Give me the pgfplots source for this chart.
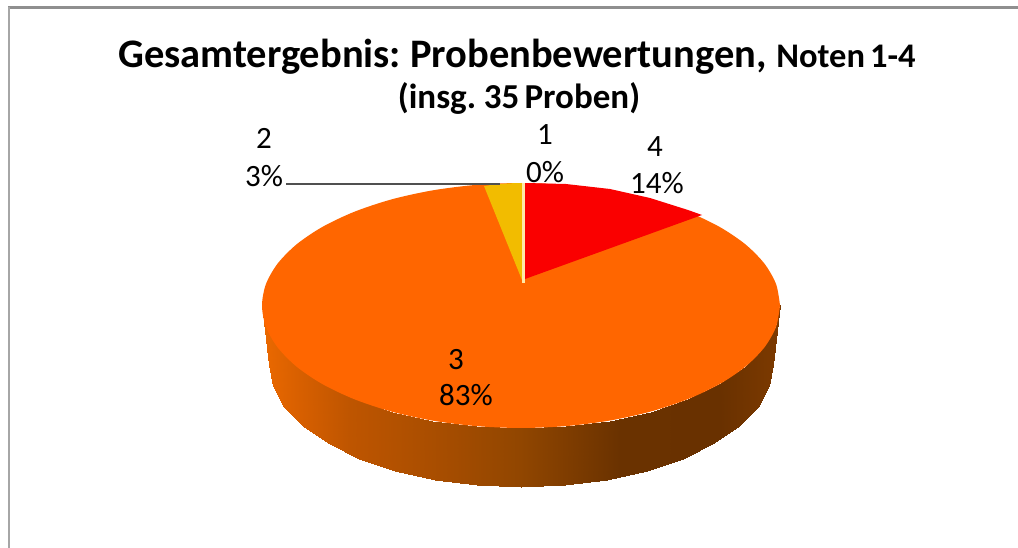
\documentclass[border=0pt]{standalone}
\usepackage{pgfplots}
\pgfplotsset{compat=1.18}
\usepackage{fontspec}
\setmainfont{Carlito}
\newfontfamily\titlefont[WordSpace=0.65]{Carlito}
\definecolor{frameT}{HTML}{8F8F8F}
\definecolor{frameL}{HTML}{A6A6A6}
\definecolor{sliceThree}{HTML}{FF6600}
\definecolor{sliceFour}{HTML}{FA0000}
\definecolor{sliceTwo}{HTML}{F2BC00}
\definecolor{sliceOne}{HTML}{FFE9A8}
\definecolor{leader}{HTML}{505050}
\pgfplotsset{colormap={sidewall}{
  rgb255(262)=(235,105,0)
  rgb255(300)=(215,95,0)
  rgb255(350)=(190,85,0)
  rgb255(430)=(170,78,0)
  rgb255(520)=(145,70,0)
  rgb255(620)=(106,50,0)
  rgb255(720)=(105,49,0)
  rgb255(780)=(125,58,0)
}}
\begin{document}
\begin{tikzpicture}
\begin{axis}[
  scale only axis, width=1018pt, height=548pt,
  xmin=0, xmax=1018, ymin=0, ymax=548, y dir=reverse,
  axis line style={draw=none}, xtick=\empty, ytick=\empty, colormap name=sidewall,
  point meta min=262, point meta max=780,
]
% frame
\addplot[frameT, line width=2.6pt] coordinates {(8,7.5) (1018,7.5)};
\addplot[frameL, line width=2pt] coordinates {(8.5,7.5) (8.5,548)};
% side wall
\addplot[surf, shader=interp, mesh/rows=2, point meta=x] table {
x y
262 305.5
265.9 326.8
277.6 347.4
296.7 366.75
322.6 384.2
354.5 399.3
391.5 411.6
432.4 420.6
476 426.1
521 428
566 426.1
609.6 420.6
650.5 411.6
687.5 399.3
719.4 384.2
745.3 366.75
764.4 347.4
776.1 326.8
780 305.5
269 365
272.8 386.2
284.2 406.7
302.8 426
328 443.4
359 458.5
395 470.7
434.8 479.6
477.3 485.1
521 487
564.7 485.1
607.2 479.6
647 470.7
683 458.5
714 443.4
739.2 426
757.8 406.7
769.2 386.2
773 365
};
% top face: share 3 (whole ellipse, the others lie over it)
\addplot[fill=sliceThree, draw=none, smooth] coordinates {
(780,305.5) (776.1,284.2) (764.4,263.6) (745.3,244.25) (719.4,226.8) (687.5,211.7) (650.5,199.4) (609.6,190.4) (566,184.9) (521,183)
(476,184.9) (432.4,190.4) (391.5,199.4) (354.5,211.7) (322.6,226.8) (296.7,244.25) (277.6,263.6) (265.9,284.2) (262,305.5)
(265.9,326.8) (277.6,347.4) (296.7,366.75) (322.6,384.2) (354.5,399.3) (391.5,411.6) (432.4,420.6) (476,426.1) (521,428)
(566,426.1) (609.6,420.6) (650.5,411.6) (687.5,399.3) (719.4,384.2) (745.3,366.75) (764.4,347.4) (776.1,326.8) (780,305.5)
} -- cycle;
% share 2
\addplot[fill=sliceTwo, draw=none] coordinates {(522,280) (484,186) (495,184.5) (510,183.3) (522,183)} -- cycle;
% share 1 (hairline)
\addplot[fill=sliceOne, draw=none] coordinates {(522,183) (525,183) (525,283) (522,283)} -- cycle;
% share 4
\addplot[fill=sliceFour, draw=none] coordinates {(525,183) (566,184) (610,189) (650,198) (688,210) (702,215) (525,279)} -- cycle;
% leader
\addplot[leader, line width=1.1pt] coordinates {(286,184) (500,184)};
% labels
\node[anchor=base, font=\fontsize{40.5}{40.5}\selectfont\titlefont\bfseries, inner sep=0pt] at (axis cs:442.5,68) {Gesamtergebnis: Probenbewertungen,};
\node[anchor=base, font=\fontsize{34.5}{34.5}\selectfont\titlefont\bfseries, inner sep=0pt] at (axis cs:846,68) {Noten 1-4};
\node[anchor=base, font=\fontsize{35}{35}\selectfont\titlefont\bfseries, inner sep=0pt] at (axis cs:519,109) {(insg. 35 Proben)};
\foreach \x/\y/\t in {264/138/2, 264/176/3\%, 545/135/1, 545/172/0\%, 655/147/4, 657/183/14\%, 456/360/3, 466/395/83\%}{
  \edef\tmp{\noexpand\node[font=\noexpand\fontsize{31}{31}\noexpand\selectfont, inner sep=0pt] at (axis cs:\x,\y) {\unexpanded\expandafter{\t}};}
  \tmp
}
\end{axis}
\end{tikzpicture}
\end{document}
